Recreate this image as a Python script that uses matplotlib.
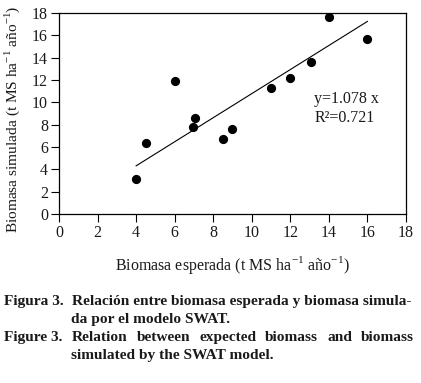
import matplotlib
matplotlib.use("Agg")
import matplotlib.pyplot as plt
import numpy as np

plt.rcParams['font.family'] = ['Liberation Serif', 'DejaVu Serif']
plt.rcParams['mathtext.fontset'] = 'custom'
plt.rcParams['mathtext.rm'] = 'Liberation Serif'

expected = [4.0, 4.5, 6.0, 6.95, 7.05, 8.5, 9.0, 11.0, 12.0, 13.05, 14.0, 16.0]
simulated = [3.15, 6.4, 11.9, 7.8, 8.6, 6.7, 7.65, 11.27, 12.2, 13.6, 17.65, 15.7]
slope = 1.078
r2 = 0.721
ticks = [0, 2, 4, 6, 8, 10, 12, 14, 16, 18]

fig = plt.figure(figsize=(4.21, 3.83), dpi=100)
W, H = 421, 383
ax = fig.add_axes([59 / W, 1 - 214 / H, (406 - 59) / W, (214 - 13) / H])

txtc = '#1a1a1a'
ax.scatter(expected, simulated, s=44, color='black', zorder=3, linewidths=0)
xl = np.array([min(expected), max(expected)])
ax.plot(xl, slope * xl, color='black', lw=0.8)

ax.set_xlim(0, 18)
ax.set_ylim(0, 18)
ax.set_xticks(ticks)
ax.set_yticks(ticks)
ax.tick_params(direction='out', length=6, width=0.8, labelsize=11.5, pad=2,
               labelcolor=txtc)
for s in ax.spines.values():
    s.set_linewidth(0.9)

ax.text(13.25, 10.3, f"y={slope} x", fontsize=11.5, va='center', color=txtc)
ax.text(13.25, 8.6, f"R²={r2}", fontsize=11.5, va='center', color=txtc)

ax.set_xlabel("Biomasa esperada (t MS ha$^{-1}$ año$^{-1}$)", fontsize=11.5,
              labelpad=9, color=txtc)
ax.set_ylabel("Biomasa simulada (t MS ha$^{-1}$ año$^{-1}$)", fontsize=11.1,
              color=txtc)
ax.yaxis.set_label_coords((12 - 59) / 347, (214 - 119) / 201)
ax.yaxis.label.set_va('center')

cap_kw = dict(fontsize=11.1, fontweight='bold', va='baseline', color='#1a1a1a')
b = [305, 323, 341, 359]
fig.text(4 / W, 1 - b[0] / H, "Figura 3.", **cap_kw)
fig.text(72 / W, 1 - b[0] / H, "Relación entre biomasa esperada y biomasa simula-", **cap_kw)
fig.text(71 / W, 1 - b[1] / H, "da por el modelo SWAT.", **cap_kw)
fig.text(4 / W, 1 - b[2] / H, "Figure 3.", **cap_kw)
words = ["Relation", "between", "expected", "biomass", "and", "biomass"]
x0, x1 = 72, 414
fig.canvas.draw()
r = fig.canvas.get_renderer()
tmp = [fig.text(0, 0, w, **cap_kw) for w in words]
widths = [t.get_window_extent(r).width for t in tmp]
for t in tmp:
    t.remove()
gap = (x1 - x0 - sum(widths)) / (len(words) - 1)
xpos = x0
for w, wd in zip(words, widths):
    fig.text(xpos / W, 1 - b[2] / H, w, **cap_kw)
    xpos += wd + gap
fig.text(71 / W, 1 - b[3] / H, "simulated by the SWAT model.", **cap_kw)

fig.savefig("out.png", dpi=100)
